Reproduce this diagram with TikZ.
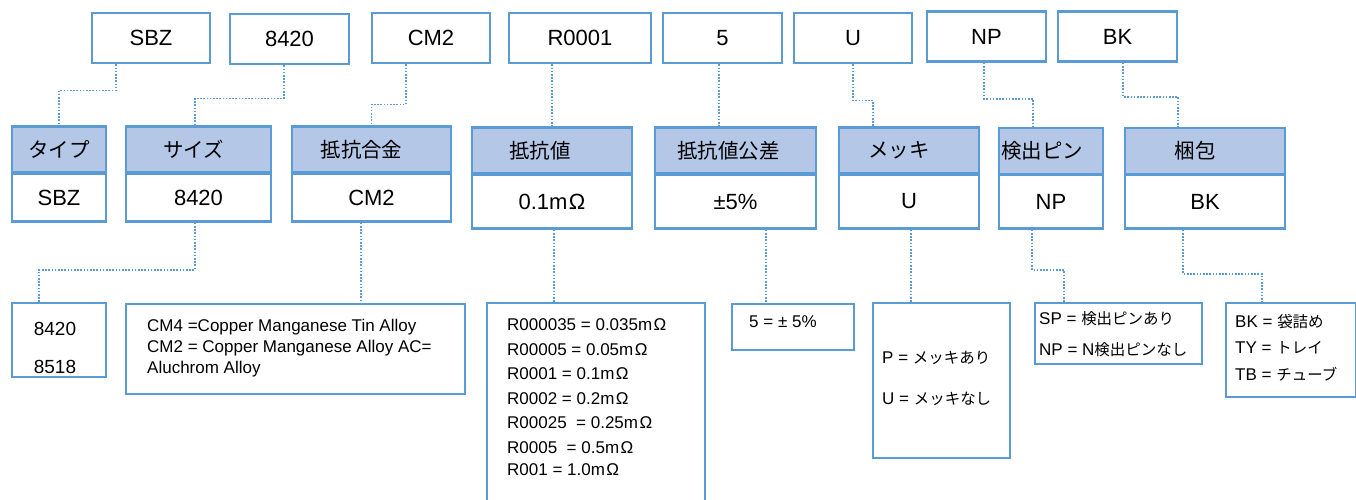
\documentclass[tikz,border=0pt]{standalone}
\usepackage{fontspec}
\setmainfont{Liberation Sans}
\newfontfamily\jp[Scale=0.91]{Noto Sans CJK JP}
\definecolor{bl}{HTML}{5B9BD5}
\definecolor{hf}{HTML}{B4C7E7}
\newcommand\sh[1]{\hspace*{#1}}
\newcommand\om{\kern1.5pt Ω}
\begin{document}
\begin{tikzpicture}[x=1pt,y=-1pt,
 box/.style={draw=bl,line width=2.6pt,rectangle,inner sep=0pt,fill=white},
 topbox/.style={box,minimum height=50pt,font=\fontsize{22}{26}\selectfont},
 head/.style={box,fill=hf,minimum height=46pt,font=\jp\fontsize{22.5}{27}\selectfont},
 bodyA/.style={box,minimum height=48pt,font=\fontsize{22}{26}\selectfont},
 bodyB/.style={box,minimum height=54pt,font=\fontsize{22}{26}\selectfont},
 lbox/.style={box},
 txt/.style={inner sep=0pt,align=left,anchor=west,font=\fontsize{17}{21}\selectfont},
 conn/.style={draw=bl,line width=1.6pt,dash pattern=on 1.6pt off 1.6pt}]
\useasboundingbox (0,0) rectangle (1356,499);
\clip (0,0) rectangle (1356,499);
% top row
\node[topbox,minimum width=118pt] (t1) at (151,38) {SBZ};
\node[topbox,minimum width=119pt] (t2) at (289.5,39) {8420};
\node[topbox,minimum width=118pt] (t3) at (431,38) {CM2};
\node[topbox,minimum width=142pt] (t4) at (580,38) {R0001};
\node[topbox,minimum width=119pt] (t5) at (722.5,38) {5};
\node[topbox,minimum width=118pt] (t6) at (853,38) {U};
\node[topbox,minimum width=119pt] (t7) at (986.5,36.5) {NP};
\node[topbox,minimum width=119pt] (t8) at (1117.5,36.5) {BK};
% header row
\node[head,minimum width=94pt] (h1) at (59,149.5) {タイプ};
\node[bodyA,minimum width=94pt] (b1) at (59,197.5) {SBZ};
\node[head,minimum width=145pt] (h2) at (198.5,149.5) {\sh{-10pt}サイズ};
\node[bodyA,minimum width=145pt] (b2) at (198.5,197.5) {8420};
\node[head,minimum width=159pt] (h3) at (371.5,149.5) {\sh{-20pt}抵抗合金};
\node[bodyA,minimum width=159pt] (b3) at (371.5,197.5) {CM2};
\node[head,minimum width=160pt] (h4) at (552,150.5) {\sh{-24pt}抵抗値};
\node[bodyB,minimum width=160pt] (b4) at (552,201.5) {0.1m\om};
\node[head,minimum width=161pt] (h5) at (735.5,150.5) {\sh{-14pt}抵抗値公差};
\node[bodyB,minimum width=161pt] (b5) at (735.5,201.5) {±5\%};
\node[head,minimum width=140pt] (h6) at (909,150.5) {\sh{-20pt}メッキ};
\node[bodyB,minimum width=140pt] (b6) at (909,201.5) {U};
\node[head,minimum width=104pt] (h7) at (1051,151) {\sh{-18pt}検出ピン};
\node[bodyB,minimum width=104pt] (b7) at (1051,201.5) {NP};
\node[head,minimum width=160pt] (h8) at (1205,151) {\sh{-20pt}梱包};
\node[bodyB,minimum width=160pt] (b8) at (1205,201.5) {BK};
% lower boxes
\node[lbox,minimum width=94pt,minimum height=74pt] (l1) at (59,340) {};
\node[inner sep=0pt,align=center,font=\fontsize{19}{38}\selectfont] (x1) at (55,348) {8420\\8518};
\node[lbox,minimum width=339pt,minimum height=90pt] (l3) at (295.5,349) {};
\node[txt] (x3) at (147,348) {CM4 =Copper Manganese Tin Alloy\\CM2 = Copper Manganese Alloy AC=\\Aluchrom Alloy};
\node[lbox,minimum width=218pt,minimum height=210pt] (l4) at (596,408) {};
\node[txt,font=\fontsize{17}{24.5}\selectfont] (x4) at (507,397) {R000035 = 0.035m\om\\R00005 = 0.05m\om\\R0001 = 0.1m\om\\R0002 = 0.2m\om\\R00025 \ = 0.25m\om\\R0005 \ = 0.5m\om\\[-2.5pt]R001 = 1.0m\om};
\node[lbox,minimum width=122pt,minimum height=46pt] (l5) at (793,327) {};
\node[txt] (x5) at (749,322) {5 = ±\ 5\%};
\node[lbox,minimum width=137pt,minimum height=155pt] (l6) at (941.5,380.5) {};
\node[txt,font=\fontsize{17}{41}\selectfont] (x6) at (882,378.5) {P = {\jp メッキあり}\\U = {\jp メッキなし}};
\node[lbox,minimum width=167pt,minimum height=61pt] (l7) at (1118.5,333.5) {};
\node[txt,font=\fontsize{17}{31}\selectfont] (x7) at (1039,334.5) {SP = {\jp 検出ピンあり}\\NP = N{\jp 検出ピンなし}};
\node[lbox,minimum width=130pt,minimum height=94pt] (l8) at (1291,350) {};
\node[txt,font=\fontsize{17}{26.5}\selectfont] (x8) at (1235,347.5) {BK = {\jp 袋詰め}\\TY = {\jp トレイ}\\TB = {\jp チューブ}};
% connectors top -> header
\draw[conn] ([xshift=-35pt]t1.south) -- ++(0,26) -| (h1.north);
\draw[conn] ([xshift=-5.5pt]t2.south) -- ++(0,33) -| ([xshift=-3.5pt]h2.north);
\draw[conn] ([xshift=-25pt]t3.south) -- ++(0,40) -| (h3.north);
\draw[conn] (h4.north |- t4.south) -- (h4.north);
\draw[conn] ([xshift=-3.5pt]t5.south) -- ([xshift=-3.5pt]t5.south |- h5.north);
\draw[conn] (t6.south) -- ++(0,36) -| ([xshift=-36pt]h6.north);
\draw[conn] ([xshift=-2.5pt]t7.south) -- ++(0,36) -| ([xshift=-18pt]h7.north);
\draw[conn] ([xshift=5.5pt]t8.south) -- ++(0,34) -| ([xshift=-27pt]h8.north);
% connectors body -> lower
\draw[conn] ([xshift=-3.5pt]b2.south) -- ++(0,47) -| ([xshift=-20pt]l1.north);
\draw[conn] ([xshift=-10.5pt]b3.south) -- ([xshift=-10.5pt]b3.south |- l3.north);
\draw[conn] ([xshift=2pt]b4.south) -- ([xshift=2pt]b4.south |- l4.north);
\draw[conn] ([xshift=30.5pt]b5.south) -- ([xshift=30.5pt]b5.south |- l5.north);
\draw[conn] ([xshift=2pt]b6.south) -- ([xshift=2pt]b6.south |- l6.north);
\draw[conn] ([xshift=-19pt]b7.south) -- ++(0,40) -| ([xshift=-54.5pt]l7.north);
\draw[conn] ([xshift=-22pt]b8.south) -- ++(0,44) -| ([xshift=-29pt]l8.north);
\end{tikzpicture}
\end{document}
